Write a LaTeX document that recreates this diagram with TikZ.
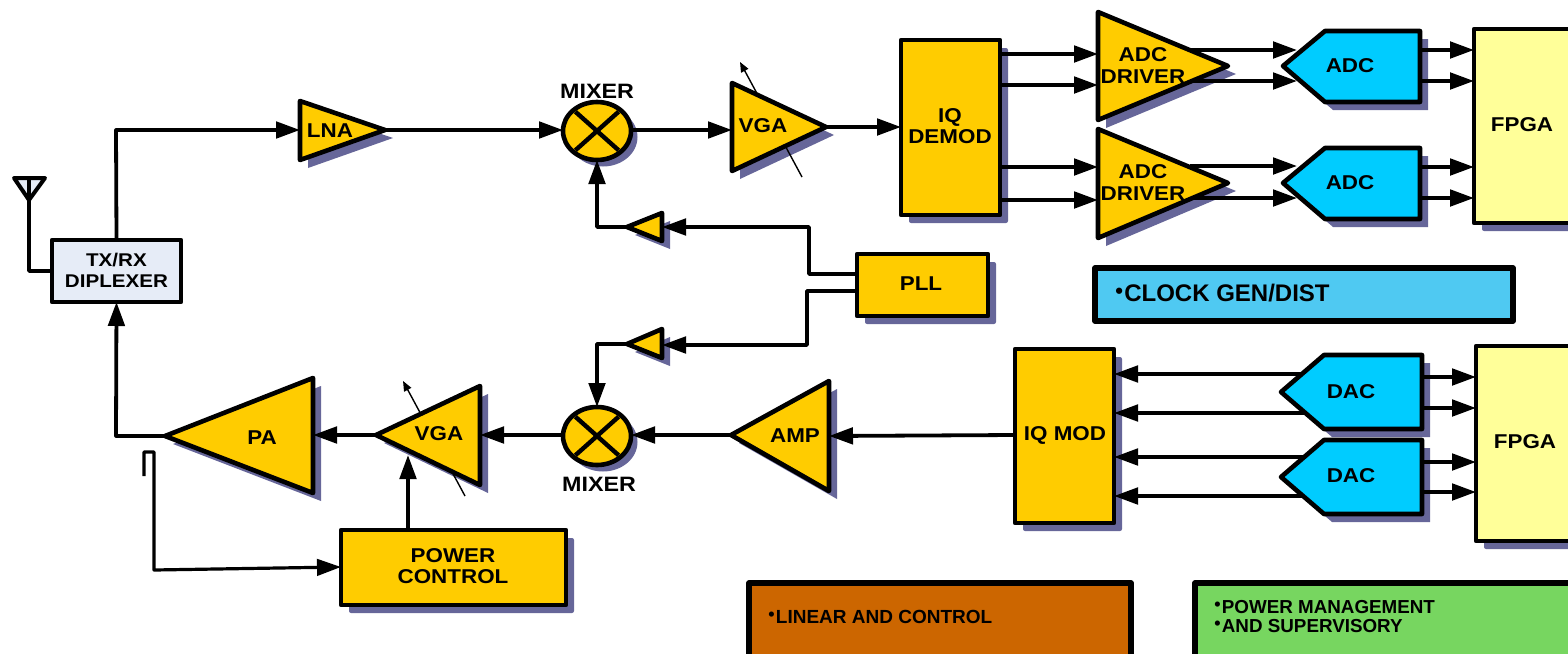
\documentclass[tikz,border=0pt]{standalone}
\usepackage{fontspec}
\setmainfont{Liberation Sans}
\newfontfamily\labfont[FakeStretch=1.12]{Liberation Sans Bold}
\newfontfamily\legfont{Liberation Sans Bold}
\usetikzlibrary{arrows.meta,calc,shapes.geometric}
\pgfdeclarelayer{shadowlayer}
\pgfdeclarelayer{connlayer}
\pgfsetlayers{shadowlayer,connlayer,main}
\definecolor{gold}{HTML}{FFCC00}
\definecolor{cyanb}{HTML}{00CCFF}
\definecolor{paley}{HTML}{FFFF99}
\definecolor{shad}{HTML}{666699}
\definecolor{pale}{HTML}{E6ECF7}
\definecolor{clockb}{HTML}{4FC9F2}
\definecolor{linbr}{HTML}{CC6600}
\definecolor{pwrg}{HTML}{77D660}
\tikzset{
  x=0.5pt,y=-0.5pt,
  outl/.style={draw=black,line width=2.3pt,line join=round,outer sep=0pt},
  heavy/.style={outl/.append style={line width=2.8pt}},
  lab/.style={font=\labfont\fontsize{10}{10.6}\selectfont,align=center,inner sep=0pt},
  leg/.style={font=\legfont,align=left,inner sep=0pt,anchor=west},
  wire/.style={line width=1.9pt,line join=round},
  arrw/.style={wire,-{Triangle[length=12pt,width=8.2pt]}},
  thinarrw/.style={line width=0.7pt,-{Triangle[length=5pt,width=4pt]}},
}
\newcommand{\rectnode}[7]{%
  \begin{pgfonlayer}{shadowlayer}
    \ifx#7s\fill[shad,rounded corners=1pt] (#2+8,#3+8) rectangle (#4+8,#5+8);\fi
  \end{pgfonlayer}
  \path let \p1=(#2,#3),\p2=(#4,#5) in
    node[outl,fill=#6,rectangle,inner sep=0pt,minimum width=\x2-\x1,minimum height=\y1-\y2] (#1) at ($(#2,#3)!0.5!(#4,#5)$) {};
}
\newcommand{\tripoly}[5]{%
  \begin{pgfonlayer}{shadowlayer}
    \fill[shad,line join=round] ($(#3)+(8,8)$) -- ($(#4)+(8,8)$) -- ($(#5)+(8,8)$) -- cycle;
  \end{pgfonlayer}
  \coordinate (#1-a) at (#3);\coordinate (#1-b) at (#4);\coordinate (#1-c) at (#5);
  \path[outl,fill=#2] (#1-a) -- (#1-b) -- (#1-c) -- cycle;
}
\newcommand{\pentpoly}[7]{%
  \begin{pgfonlayer}{shadowlayer}
    \fill[shad] ($(#3)+(8,8)$) -- ($(#4)+(8,8)$) -- ($(#5)+(8,8)$) -- ($(#6)+(8,8)$) -- ($(#7)+(8,8)$) -- cycle;
  \end{pgfonlayer}
  \coordinate (#1-a) at (#3);\coordinate (#1-b) at (#4);\coordinate (#1-c) at (#5);\coordinate (#1-d) at (#6);\coordinate (#1-e) at (#7);
  \path[outl,fill=#2] (#1-a) -- (#1-b) -- (#1-c) -- (#1-d) -- (#1-e) -- cycle;
}
\newcommand{\mixernode}[3]{%
  \begin{pgfonlayer}{shadowlayer}
    \fill[shad] (#2+6,#3+6) ellipse [x radius=34.5,y radius=29.5];
  \end{pgfonlayer}
  \node[outl,fill=gold,ellipse,inner sep=0pt,minimum width=34pt,minimum height=29pt] (#1) at (#2,#3) {};
  \draw[line width=2.2pt] ($(#1.north west)+(2.4,1.2)$) -- ($(#1.south east)+(-2.4,-1.2)$);
  \draw[line width=2.2pt] ($(#1.south west)+(2.4,-1.2)$) -- ($(#1.north east)+(-2.4,1.2)$);
}
\newcommand{\bul}[2]{\raisebox{#1}{\fontsize{#2}{#2}\selectfont•}\kern0.6pt}
\begin{document}
\begin{tikzpicture}
\useasboundingbox (0,0) rectangle (1568,653);

% antenna
\coordinate (ant-l) at (14,178);
\coordinate (ant-r) at (45,178);
\coordinate (ant-b) at (29,200);
\path[draw=black,line width=2pt,line join=round,fill=pale] (ant-l) -- (ant-r) -- (ant-b) -- cycle;

\rectnode{dipl}{52}{240}{181}{302}{pale}{n}
\node[lab,font=\labfont\fontsize{9.2}{10.2}\selectfont] (dipltxt) at (116.5,270.5) {TX/RX\\DIPLEXER};
% antenna stem over the antenna fill
\draw[wire] (ant-l -| ant-b) -- (ant-b) -- (ant-b |- 0,271) -- (dipl.west |- 0,271);

\tripoly{lna}{gold}{300,101}{300,160}{385,130}
\node[lab] (lnatxt) at (330,130.5) {LNA};

\mixernode{mixa}{597}{131}
\node[lab,font=\labfont\fontsize{10.4}{11}\selectfont] (mixatxt) at (597,91) {MIXER};

\tripoly{vgaa}{gold}{732,83}{732,171}{826,127}
\node[lab] (vgaatxt) at (763,125.5) {VGA};

\rectnode{demod}{901}{40}{1000}{215}{gold}{s}
\node[lab] (demodtxt) at (950,126.5) {IQ\\DEMOD};

\tripoly{dra}{gold}{1098,12}{1098,120}{1228,66}
\node[lab] (dratxt) at (1143,65.5) {ADC\\DRIVER};
\tripoly{drb}{gold}{1098,129}{1098,238}{1228,183}
\node[lab] (drbtxt) at (1143,182.5) {ADC\\DRIVER};

\pentpoly{adca}{cyanb}{1283,66}{1325,31}{1420,31}{1420,102}{1325,102}
\node[lab] (adcatxt) at (1350,65.5) {ADC};
\pentpoly{adcb}{cyanb}{1283,183}{1325,148}{1420,148}{1420,219}{1325,219}
\node[lab] (adcbtxt) at (1350,182.5) {ADC};

\rectnode{fpgaa}{1474}{29}{1600}{223}{paley}{s}
\node[lab] (fpgaatxt) at (1522,124.5) {FPGA};

\tripoly{bufa}{gold}{627,227}{662,213}{662,241}
\rectnode{pll}{857}{254}{988}{316}{gold}{s}
\node[lab] (plltxt) at (921,283.5) {PLL};
\tripoly{bufb}{gold}{627,344}{662,329}{662,358}

\begin{scope}[heavy]
\rectnode{clock}{1095}{268}{1513}{321}{clockb}{n}
\end{scope}
\node[leg,font=\legfont\fontsize{12}{13}\selectfont] (clocktxt) at (1115,293) {\bul{1.5pt}{11}CLOCK GEN/DIST};

\rectnode{iqmod}{1015}{349}{1114}{523}{gold}{s}
\node[lab] (iqmodtxt) at (1065,435) {IQ MOD};

\pentpoly{daca}{cyanb}{1281,392}{1324,355}{1422,355}{1422,429}{1324,429}
\node[lab] (dacatxt) at (1351,391.5) {DAC};
\pentpoly{dacb}{cyanb}{1281,477}{1324,440}{1422,440}{1422,514}{1324,514}
\node[lab] (dacbtxt) at (1351,475.5) {DAC};

\rectnode{fpgab}{1476}{346}{1600}{541}{paley}{s}
\node[lab] (fpgabtxt) at (1525,441.5) {FPGA};

\tripoly{amp}{gold}{731,435}{829,381}{829,491}
\node[lab] (amptxt) at (795,435.5) {AMP};

\mixernode{mixb}{597}{436}
\node[lab,font=\labfont\fontsize{10.4}{11}\selectfont] (mixbtxt) at (599,484) {MIXER};

\tripoly{vgab}{gold}{376,435}{480,386}{480,485}
\node[lab] (vgabtxt) at (439,433.5) {VGA};

\tripoly{pa}{gold}{165,436}{313,378}{313,493}
\node[lab] (patxt) at (262,437.5) {PA};

\rectnode{pwr}{341}{530}{566}{605}{gold}{s}
\node[lab] (pwrtxt) at (453,566) {POWER\\CONTROL};

\begin{scope}[heavy]
\rectnode{lin}{749}{583}{1131}{680}{linbr}{n}
\rectnode{psm}{1195}{583}{1600}{680}{pwrg}{n}
\end{scope}
\node[leg,font=\legfont\fontsize{9.5}{10}\selectfont] (lintxt) at (768,617) {\bul{1.5pt}{9}LINEAR AND CONTROL};
\node[leg,font=\legfont\fontsize{9.4}{9.6}\selectfont] (psmtxt) at (1214,616.5) {\bul{1.5pt}{9}POWER MANAGEMENT\\[-0.1pt]\bul{1.5pt}{9}AND SUPERVISORY};

\begin{pgfonlayer}{connlayer}
  % receive chain
  \draw[arrw] (dipl.north) -- (116,130) -- (lna-a |- 0,130);
  \draw[arrw] (lna-c) -- (mixa.west |- 0,130);
  \draw[arrw] (mixa.east |- 0,130) -- (vgaa-a |- 0,130);
  \draw[arrw] (vgaa-c) -- (demod.west |- 0,127);
  \draw[arrw] (demod.east |- 0,54) -- (dra-a |- 0,54);
  \draw[arrw] (demod.east |- 0,85) -- (dra-a |- 0,85);
  \draw[arrw] (demod.east |- 0,167) -- (drb-a |- 0,167);
  \draw[arrw] (demod.east |- 0,200) -- (drb-a |- 0,200);
  \draw[arrw] (1190,50) -- (1297,50);
  \draw[arrw] (1190,81) -- (1297,81);
  \draw[arrw] (1190,166) -- (1297,166);
  \draw[arrw] (1190,198) -- (1297,198);
  \draw[arrw] (adca-c |- 0,50) -- (fpgaa.west |- 0,50);
  \draw[arrw] (adca-c |- 0,81) -- (fpgaa.west |- 0,81);
  \draw[arrw] (adcb-c |- 0,167) -- (fpgaa.west |- 0,167);
  \draw[arrw] (adcb-c |- 0,198) -- (fpgaa.west |- 0,198);
  % PLL
  \draw[arrw] (pll.west |- 0,274) -- (809,274) -- (809,227) -- (bufa-b |- 0,227);
  \draw[arrw] (bufa-a) -- (597,227) -- (mixa.south);
  \draw[arrw] (pll.west |- 0,291) -- (807,291) -- (807,345) -- (bufb-b |- 0,345);
  \draw[arrw] (bufb-a) -- (597,344) -- (mixb.north);
  % transmit chain
  \draw[arrw] (iqmod.west |- 0,435) -- (amp-b |- 0,436);
  \draw[arrw] (amp-a) -- (mixb.east |- 0,435);
  \draw[arrw] (mixb.west |- 0,435) -- (vgab-b |- 0,435);
  \draw[arrw] (vgab-a) -- (pa-b |- 0,435);
  \draw[arrw] (pa-a) -- (116,436) -- (dipl.south);
  \draw[arrw] (pwr.north -| 408,0) -- (408,455);
  \draw[arrw,line width=1.6pt] (144,476) -- (144,452) -- (154,452) -- (154,570) -- (pwr.west |- 0,567);
  \draw[arrw] (daca-b |- 0,374) -- (iqmod.east |- 0,374);
  \draw[arrw] (daca-b |- 0,413) -- (iqmod.east |- 0,413);
  \draw[arrw] (dacb-b |- 0,457) -- (iqmod.east |- 0,457);
  \draw[arrw] (dacb-b |- 0,496) -- (iqmod.east |- 0,496);
  \draw[arrw] (daca-c |- 0,377) -- (fpgab.west |- 0,377);
  \draw[arrw] (daca-c |- 0,408) -- (fpgab.west |- 0,408);
  \draw[arrw] (dacb-c |- 0,462) -- (fpgab.west |- 0,462);
  \draw[arrw] (dacb-c |- 0,492) -- (fpgab.west |- 0,492);
  % variable gain marks
  \coordinate (vmarka-s) at (802,177);
  \coordinate (vmarka-e) at (740,62);
  \draw[thinarrw] (vmarka-s) -- (vmarka-e);
  \coordinate (vmarkb-s) at (465,496);
  \coordinate (vmarkb-e) at (403,381);
  \draw[thinarrw] (vmarkb-s) -- (vmarkb-e);
\end{pgfonlayer}
\end{tikzpicture}
\end{document}
